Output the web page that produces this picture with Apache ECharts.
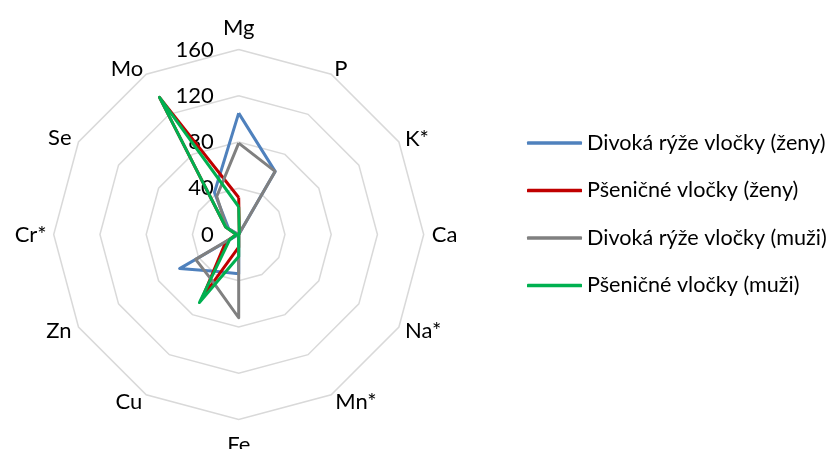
<!DOCTYPE html>
<html><head><meta charset="utf-8">
<script src="https://cdn.jsdelivr.net/npm/echarts@6/dist/echarts.min.js"></script>
<style>html,body{margin:0;padding:0;background:#fff}#c{width:831px;height:449px}</style>
</head><body><div id="c"></div>
<script>
// ---- data ----
const indicatorNames = ['Mg','P','K*','Ca','Na*','Mn*','Fe','Cu','Zn','Cr*','Se','Mo'];
const axisMin = 0;
const axisMax = 160;
const tickLabels = ['0','40','80','120','160'];
const seriesNames = ['Divoká rýže vločky (ženy)','Pšeničné vločky (ženy)','Divoká rýže vločky (muži)','Pšeničné vločky (muži)'];
const wildRiceWomen = [105, 63, 0, 0, 0, 0, 34, 37, 59, 0, 10, 42];
const wheatWomen    = [32, 1, 0, 0, 0, 0, 11, 62, 13, 2, 13, 137];
const wildRiceMen   = [79, 63, 0, 0, 0, 0, 72, 46, 43, 1, 12, 38];
const wheatMen      = [24, 1, 0, 0, 0, 0, 19, 68, 9, 2, 13, 137];

// ---- styles ----
const FONT = 'Lato';
const FS = 22;
const LEGEND_FS = 21.6;
const colors = ['#4F81BD','#C00000','#808080','#00B050'];
const namePlacement = {
  'Mg':['center',22], 'P':['left',6], 'K*':['left',7], 'Ca':['left',8],
  'Na*':['left',7], 'Mn*':['left',8], 'Fe':['center',25], 'Cu':['right',8],
  'Zn':['right',8], 'Cr*':['right',7], 'Se':['right',8], 'Mo':['right',6]
};

// ECharts radar goes counter-clockwise; reorder so axes run clockwise like the reference
const order = [0].concat(indicatorNames.map((_, i) => i).slice(1).reverse());
const reorder = arr => order.map(i => arr[i]);

const indicator = reorder(indicatorNames).map((n, k) => {
  const p = namePlacement[n];
  const o = {
    name: n, min: axisMin, max: axisMax,
    nameGap: p[1],
    nameTextStyle: { align: p[0], verticalAlign: 'middle' }
  };
  if (k === 0) o.axisLabel = { show: true };
  return o;
});

const allValues = [wildRiceWomen, wheatWomen, wildRiceMen, wheatMen];
const series = allValues.map((vals, i) => ({
  type: 'radar',
  name: seriesNames[i],
  symbol: 'none',
  z: 2 + i,
  lineStyle: { color: colors[i], width: 3, join: 'round' },
  itemStyle: { color: colors[i] },
  data: [{ name: seriesNames[i], value: reorder(vals) }]
}));

const chart = echarts.init(document.getElementById('c'), null, { renderer: 'canvas' });
chart.setOption({
  animation: false,
  backgroundColor: '#fff',
  textStyle: { fontFamily: FONT },
  legend: {
    orient: 'vertical', left: 527, top: 131, padding: 0,
    itemWidth: 55, itemHeight: 3.5, itemGap: 23.5,
    icon: 'roundRect',
    itemStyle: { borderWidth: 0 },
    textStyle: { fontFamily: FONT, fontSize: LEGEND_FS, color: '#000', lineHeight: 24 },
    data: seriesNames
  },
  radar: {
    center: [238.7, 234.5],
    radius: 185,
    shape: 'polygon',
    splitNumber: tickLabels.length - 1,
    axisName: { color: '#000', fontFamily: FONT, fontSize: FS },
    axisLine: { show: false },
    axisTick: { show: false },
    splitArea: { show: false },
    splitLine: { lineStyle: { color: '#D9D9D9', width: 1.5 } },
    axisLabel: {
      show: false, color: '#000', fontFamily: FONT, fontSize: FS, margin: 25,
      formatter: v => tickLabels[Math.round((v - axisMin) / ((axisMax - axisMin) / (tickLabels.length - 1)))]
    },
    indicator: indicator
  },
  series: series
});
</script></body></html>
